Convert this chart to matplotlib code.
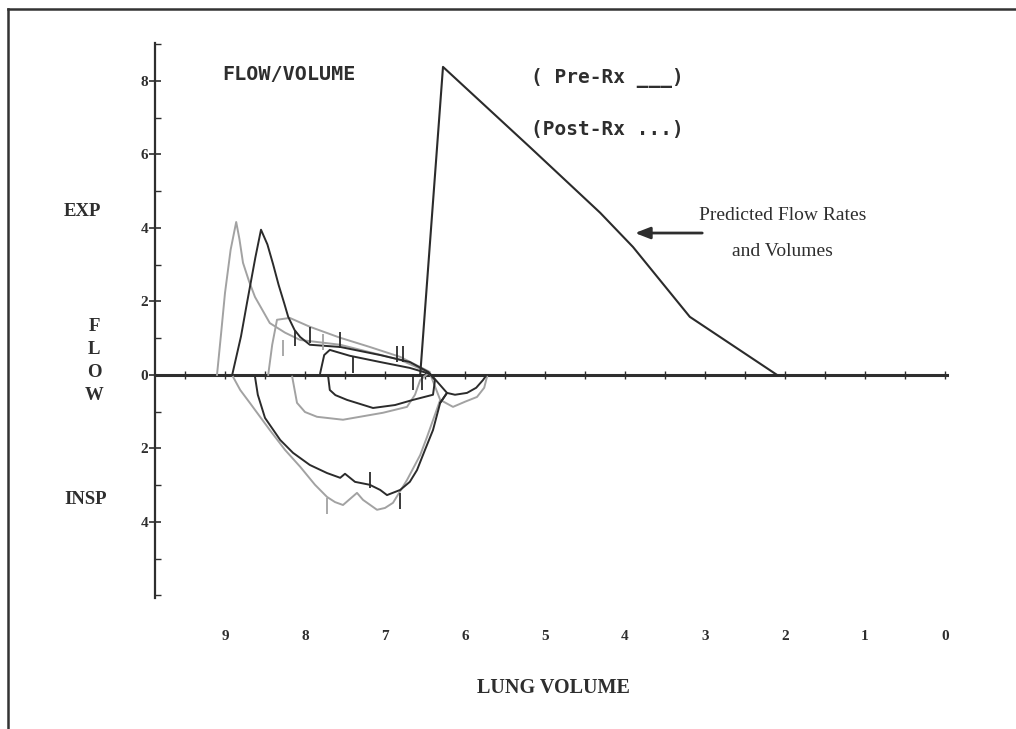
import matplotlib
matplotlib.use('Agg')
import matplotlib.pyplot as plt
import numpy as np
from matplotlib.lines import Line2D

# ---------------- data (lung volume in L, flow in L/s; inspiratory flow negative) ----------------
pred_vol = [6.56, 6.275, 5.19, 4.31, 3.90, 3.19, 2.10]
pred_flow = [0.0, 8.38, 6.20, 4.41, 3.48, 1.58, 0.0]

# Pre-Rx (dark) large loop: expiration then inspiration
pre_big_vol = [8.91, 8.80, 8.725, 8.62, 8.55, 8.47, 8.40, 8.33, 8.26, 8.21, 8.13, 8.06, 7.94, 7.56, 7.06, 6.69, 6.46, 6.41,
               6.225, 6.31, 6.40, 6.50, 6.60, 6.69, 6.81, 6.975, 7.06, 7.19, 7.375, 7.50,
               7.56, 7.725, 7.94, 8.15, 8.31, 8.50, 8.59, 8.625]
pre_big_flow = [0.0, 1.05, 1.96, 3.20, 3.95, 3.55, 3.02, 2.45, 1.95, 1.58, 1.22, 1.03, 0.82, 0.76, 0.54, 0.35, 0.08, -0.03,
                -0.49, -0.76, -1.50, -2.04, -2.59, -2.91, -3.13, -3.27, -3.13, -2.99, -2.91, -2.69,
                -2.80, -2.67, -2.45, -2.12, -1.77, -1.17, -0.54, -0.05]
pre_tail_vol = [6.31, 6.225, 6.125, 5.975, 5.86, 5.775, 5.74]
pre_tail_flow = [-0.76, -0.49, -0.54, -0.49, -0.35, -0.14, -0.03]

# Pre-Rx (dark) small loop
pre_small_vol = [7.81, 7.76, 7.69, 7.44, 7.06, 6.69, 6.44, 6.375, 6.40, 6.65, 6.875, 7.15, 7.475, 7.62, 7.69, 7.71]
pre_small_flow = [0.05, 0.54, 0.68, 0.52, 0.35, 0.19, 0.03, -0.14, -0.54, -0.68, -0.82, -0.90, -0.68, -0.55, -0.41, -0.05]

# Post-Rx (grey) large loop
post_big_vol = [9.10, 9.05, 9.00, 8.93, 8.86, 8.82, 8.775, 8.70, 8.625, 8.44, 8.25, 8.06, 7.56, 6.81, 6.44, 6.31,
                6.475, 6.56, 6.725, 6.90, 7.00, 7.10, 7.275, 7.35, 7.525, 7.625, 7.725, 7.875,
                8.06, 8.25, 8.44, 8.69, 8.81, 8.90]
post_big_flow = [0.0, 1.10, 2.23, 3.40, 4.16, 3.70, 3.05, 2.55, 2.12, 1.41, 1.15, 0.95, 0.82, 0.41, 0.05, -0.68,
                 -1.69, -2.18, -2.86, -3.48, -3.62, -3.67, -3.40, -3.21, -3.54, -3.46, -3.32, -2.99,
                 -2.50, -2.04, -1.50, -0.76, -0.41, -0.05]
post_tail_vol = [6.31, 6.15, 6.0, 5.85, 5.76, 5.725]
post_tail_flow = [-0.68, -0.87, -0.73, -0.60, -0.35, -0.05]

# Post-Rx (grey) medium loop
post_mid_vol = [8.46, 8.41, 8.35, 8.19, 7.94, 7.56, 7.19, 6.81, 6.44, 6.56, 6.625, 6.725,
                7.025, 7.525, 7.85, 8.0, 8.10, 8.16]
post_mid_flow = [0.0, 0.82, 1.50, 1.55, 1.31, 1.01, 0.76, 0.49, 0.08, -0.14, -0.54, -0.87,
                 -1.03, -1.22, -1.14, -1.01, -0.76, -0.05]

# event marks on the traces
mark_dark_vol = [8.13, 7.94, 7.56, 7.40, 6.85, 6.77, 6.65, 6.54, 7.19, 6.81]
mark_dark_flow = [1.00, 1.09, 0.95, 0.27, 0.57, 0.57, -0.20, -0.20, -2.86, -3.42]
mark_grey_vol = [8.27, 7.77, 7.73]
mark_grey_flow = [0.72, 0.90, -3.56]

ytick_vals = [-4, -2, 0, 2, 4, 6, 8]
ytick_text = ['4', '2', '0', '2', '4', '6', '8']
yminor_vals = [-6, -5, -3, -1, 1, 3, 5, 7, 9]
xtick_vals = list(range(0, 10))
xtick_text = ['0', '1', '2', '3', '4', '5', '6', '7', '8', '9']

# ---------------- figure ----------------
W, H = 1016, 729
fig = plt.figure(figsize=(W / 100, H / 100), dpi=100)
fig.patch.set_facecolor('white')

def fx(px):
    return px / W

def fy(py):
    return 1 - py / H

AX = '#2e2e2e'
DARK = '#2b2b2b'
GREY = '#a2a2a2'
MONO = 'DejaVu Sans Mono'
SERIF = 'Liberation Serif'

ax = fig.add_axes([fx(155), fy(598), fx(947) - fx(155), fy(43) - fy(598)])
ax.set_xlim(9.875, -0.025)
ax.set_ylim(-6.07, 9.03)
ax.set_facecolor('none')
for s in ['top', 'right', 'bottom']:
    ax.spines[s].set_visible(False)
ax.spines['left'].set_linewidth(1.6)
ax.spines['left'].set_color(AX)

ax.set_yticks(ytick_vals)
ax.set_yticklabels(ytick_text, fontfamily=SERIF, fontweight='bold', fontsize=11, color=AX)
ax.set_yticks(yminor_vals, minor=True)
ax.tick_params(axis='y', which='major', direction='inout', length=8, width=1.2, pad=1, colors=AX)
ax.tick_params(axis='y', which='minor', direction='in', length=4, width=1.0, colors=AX)

ax.set_xticks(xtick_vals)
ax.set_xticklabels(xtick_text, fontfamily=SERIF, fontweight='bold', fontsize=11, color=AX)
ax.tick_params(axis='x', which='both', length=0, pad=23)

# zero-flow axis with half-litre ticks
sec = ax.secondary_xaxis(0, transform=ax.transData)
sec.set_xticks(np.arange(0, 9.75, 0.5))
sec.tick_params(axis='x', direction='inout', length=6, width=1.0, labelbottom=False, colors=AX)
sec.spines['bottom'].set_linewidth(2.2)
sec.spines['bottom'].set_color(AX)

# curves
lw = 1.4
ax.plot(post_big_vol, post_big_flow, color=GREY, lw=lw)
ax.plot(post_tail_vol, post_tail_flow, color=GREY, lw=lw)
ax.plot(post_mid_vol, post_mid_flow, color=GREY, lw=lw)
ax.plot(pre_big_vol, pre_big_flow, color=DARK, lw=lw)
ax.plot(pre_tail_vol, pre_tail_flow, color=DARK, lw=lw)
ax.plot(pre_small_vol, pre_small_flow, color=DARK, lw=lw)
ax.plot(pred_vol, pred_flow, color=DARK, lw=1.5)
ax.plot(mark_grey_vol, mark_grey_flow, ls='none', marker='|', ms=12, mew=1.3, color=GREY)
ax.plot(mark_dark_vol, mark_dark_flow, ls='none', marker='|', ms=12, mew=1.3, color=DARK)

# annotations
ax.annotate('', xy=(3.91, 3.86), xytext=(3.0, 3.86),
            arrowprops=dict(arrowstyle='-|>,head_length=0.9,head_width=0.35', color=AX, lw=2.0))

fig.text(fx(289), fy(74), 'FLOW/VOLUME', family=MONO, weight='bold', fontsize=14.5,
         ha='center', va='center', color=AX)
fig.text(fx(607), fy(78), '( Pre-Rx ___)', family=MONO, weight='bold', fontsize=14,
         ha='center', va='center', color=AX)
fig.text(fx(607), fy(130), '(Post-Rx ...)', family=MONO, weight='bold', fontsize=14,
         ha='center', va='center', color=AX)
fig.text(fx(783), fy(215), 'Predicted Flow Rates', family=SERIF, fontsize=14,
         ha='center', va='center', color=AX)
fig.text(fx(782), fy(251), 'and Volumes', family=SERIF, fontsize=14,
         ha='center', va='center', color=AX)
fig.text(fx(82), fy(212), 'EXP', family=SERIF, weight='bold', fontsize=13.5,
         ha='center', va='center', color=AX)
fig.text(fx(86), fy(500), 'INSP', family=SERIF, weight='bold', fontsize=13.5,
         ha='center', va='center', color=AX)
fig.text(fx(94), fy(361), '\n'.join('FLOW'), family=SERIF, weight='bold', fontsize=13.5,
         ha='center', va='center', color=AX, linespacing=1.45)
fig.text(fx(553), fy(688), 'LUNG VOLUME', family=SERIF, weight='bold', fontsize=14.5,
         ha='center', va='center', color=AX)

# scanned page frame
fig.add_artist(Line2D([fx(8), fx(8)], [fy(9), 0], transform=fig.transFigure, color='#333333', lw=1.8))
fig.add_artist(Line2D([fx(8), 1], [fy(9), fy(9)], transform=fig.transFigure, color='#333333', lw=1.8))

fig.savefig('out.png', dpi=100, facecolor='white')
